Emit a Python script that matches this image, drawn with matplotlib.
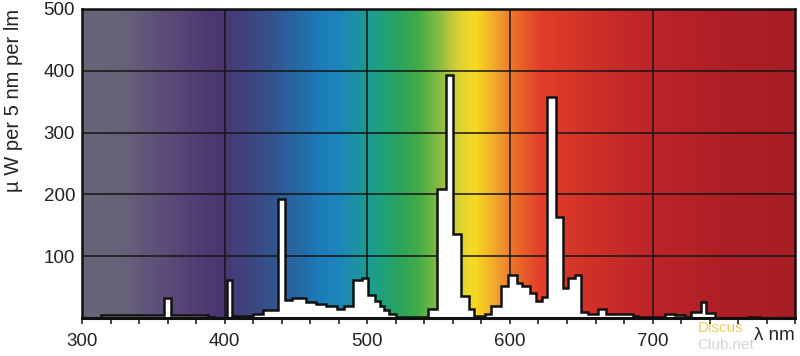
import numpy as np
import matplotlib
matplotlib.use("Agg")
import matplotlib.pyplot as plt
from matplotlib.colors import LinearSegmentedColormap

# spectrum: step edges (nm) and level of each step (uW per 5 nm per lm)
edges_nm = [313.5, 357.5, 362.5, 388.5, 393.5, 401.5, 405.5, 420, 427, 437.5,
            442.5, 447.5, 457, 464, 471, 479, 483.5, 490, 496.5, 500.5,
            505.5, 509, 512, 515.5, 520, 542.5, 549, 555, 560, 566,
            571, 575, 582.5, 586.5, 594, 599, 605, 608.7, 614, 618,
            622.7, 626.3, 632.2, 637.5, 641, 645.5, 649.8, 655, 661.5, 667.3,
            680, 686, 690, 700, 708.5, 715.5, 722.5, 727, 734, 737.5,
            743.5, 767, 775, 800]
levels = [4.5, 33, 4.5, 1.5, 0.5, 62, 2.5, 7, 12, 193,
          29, 33, 26, 22, 19, 14, 19.5, 61, 64, 37,
          28, 19, 13, 6, 2, 15, 208, 393, 136, 36,
          15, 3, 7, 19, 51, 69, 57, 52, 41, 27,
          34, 357, 164, 49, 64, 69, 9, 7, 14, 7,
          6, 3, 1, 1.5, 7, 4, 1, 10, 25, 8,
          0.5, 2, 0.5]

x_ticks = [300, 400, 500, 600, 700]
y_ticks = [100, 200, 300, 400, 500]

# background colour band along the wavelength axis
band_nm = [300, 330, 360, 395, 430, 465, 480, 505, 520, 535, 551, 560, 570, 576,
           585, 595, 605, 620, 660, 700, 760, 800]
band_col = ["#696577", "#676178", "#5a4a78", "#4a3570", "#36508a", "#1c7ab8",
            "#1e86ba", "#1ca088", "#28a262", "#40ac48", "#8cbc44", "#c8cc38",
            "#ecd82a", "#f8d820", "#f4b828", "#ee9030", "#ea6a2a", "#e2402a",
            "#ce3028", "#bc2428", "#ac1e26", "#a81e24"]


def main():
    plt.rcParams["font.family"] = ["Liberation Sans", "DejaVu Sans"]

    fig = plt.figure(figsize=(8, 3.56), dpi=100)
    ax = fig.add_axes([0.1025, 0.107, 0.8915, 0.868])

    stops = [((n - 300) / 500, c) for n, c in zip(band_nm, band_col)]
    cmap = LinearSegmentedColormap.from_list("spec", stops)
    grad = np.linspace(0, 1, 1000).reshape(1, -1)
    ax.imshow(grad, cmap=cmap, aspect="auto", extent=[300, 800, 0, 500],
              zorder=0, interpolation="bilinear")

    for v in x_ticks[1:]:
        ax.axvline(v, color="#151515", lw=1.1, zorder=1)
    for v in y_ticks[:-1]:
        ax.axhline(v, color="#151515", lw=1.1, zorder=1)

    ax.stairs(levels, edges_nm, baseline=0, fill=True, color="white", zorder=2)
    ax.stairs(levels, edges_nm, baseline=0, color="#111111", lw=1.8, zorder=3)

    ax.set_xlim(300, 800)
    ax.set_ylim(0, 500)
    ax.set_xticks(x_ticks)
    ax.set_xticks(np.arange(300, 801, 20), minor=True)
    ax.set_yticks(y_ticks)
    ax.tick_params(axis="x", which="both", direction="out", length=4, width=1.2,
                   labelsize=13.5, pad=7, colors="#222222")
    ax.tick_params(axis="y", length=0, labelsize=13.5, pad=5, colors="#222222")
    for s in ax.spines.values():
        s.set_linewidth(1.8)
        s.set_color("#111111")
    ax.spines["bottom"].set_linewidth(2.2)

    fig.text(0.017, 1 - 192 / 356, "µ W per 5 nm per lm", rotation=90,
             ha="center", va="bottom", fontsize=14.5, color="#222222")

    # watermark in the lower right corner
    fig.text(0.872, 0.058, "Discus", ha="left", va="bottom", fontsize=11,
             color="#e6c43a", alpha=0.85)
    fig.text(0.872, 0.012, "Club.net", ha="left", va="bottom", fontsize=11,
             color="#cccccc", alpha=0.85)
    fig.text(0.994, 0.035, "λ nm", ha="right", va="bottom", fontsize=13.5,
             color="#222222")

    fig.savefig("out.png", dpi=100)


if __name__ == "__main__":
    main()
